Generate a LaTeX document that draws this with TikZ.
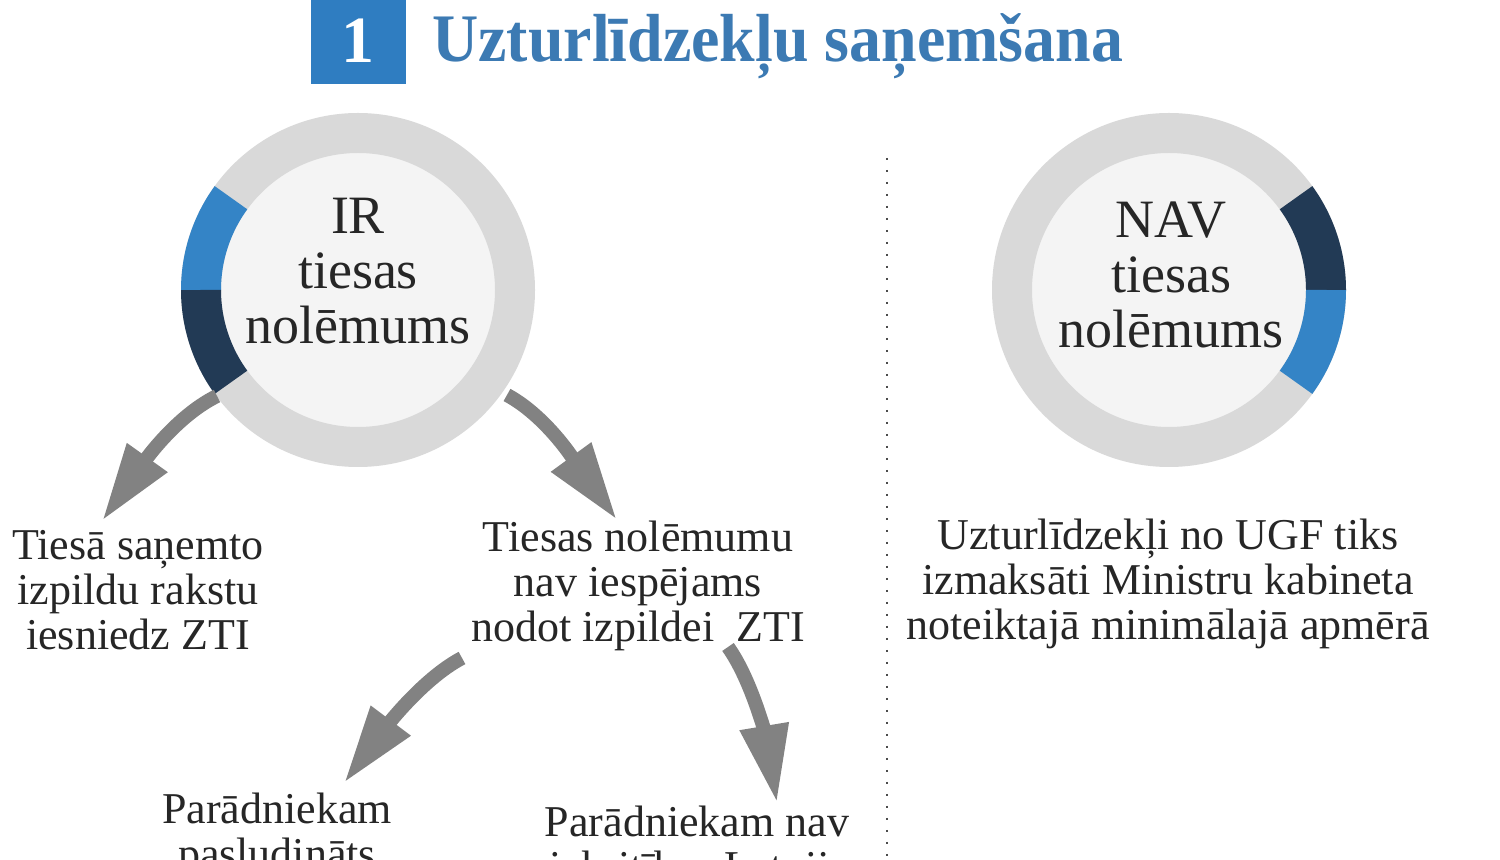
\documentclass[tikz,border=0pt]{standalone}
\usepackage{fontspec}
\setmainfont{Liberation Serif}
\usetikzlibrary{arrows.meta}
\definecolor{ringgray}{HTML}{D9D9D9}
\definecolor{innerfill}{HTML}{F4F4F4}
\definecolor{segblue}{HTML}{3484C6}
\definecolor{segdark}{HTML}{223A55}
\definecolor{titleblue}{HTML}{3C7AB3}
\definecolor{boxblue}{HTML}{2F7DC1}
\definecolor{txt}{HTML}{262626}
\definecolor{arrowgray}{HTML}{828282}
\tikzset{
  ring/.style={draw=ringgray, line width=20pt, fill=none},
  seg/.style={line width=20pt},
  circtext/.style={align=center, inner sep=0pt, text=txt, font=\fontsize{27}{27.5}\selectfont},
  bodytext/.style={align=center, inner sep=0pt, text=txt, font=\fontsize{22}{22.5}\selectfont},
  bigarrow/.style={draw=arrowgray, line width=7pt, -{Triangle[length=39pt,width=23pt]}},
  divider/.style={draw=black!70, line width=1.3pt, dash pattern=on 1.2pt off 4.8pt},
}
\begin{document}
\begin{tikzpicture}[x=0.5pt,y=-0.5pt]
\useasboundingbox (0,0) rectangle (1500,860);
\fill[white] (0,0) rectangle (1500,860);

% title
\fill[boxblue] (311,-5) rectangle (406,84);
\node[inner sep=0pt, text=white, font=\fontsize{33}{33}\selectfont\bfseries] (num) at (358,41) {1};
\node[anchor=base west, inner sep=0pt, text=titleblue, font=\fontsize{34}{34}\selectfont\bfseries] (title) at (432,62) {\scalebox{0.94}[1]{Uzturlīdzekļu saņemšana}};

% left circle
\coordinate (cL) at (358,290);
\fill[innerfill] (cL) circle[radius=140];
\draw[ring] (cL) circle[radius=157];
\draw[seg, segblue] (cL) ++(-180:157) arc[start angle=-180, end angle=-144, radius=157];
\draw[seg, segdark] (cL) ++(-216:157) arc[start angle=-216, end angle=-180, radius=157];
\node[circtext] (ir) at (358,271) {IR\\tiesas\\nolēmums};

% right circle
\coordinate (cR) at (1169,290);
\fill[innerfill] (cR) circle[radius=140];
\draw[ring] (cR) circle[radius=157];
\draw[seg, segdark] (cR) ++(-36:157) arc[start angle=-36, end angle=0, radius=157];
\draw[seg, segblue] (cR) ++(0:157) arc[start angle=0, end angle=36, radius=157];
\node[circtext] (nav) at (1171,275) {NAV\\tiesas\\nolēmums};

% divider
\coordinate (dtop) at (887,158);
\coordinate (dbot) at (887,862);
\draw[divider] (dtop) -- (dbot);

% texts
\node[bodytext] (t1) at (138,590) {Tiesā saņemto\\izpildu rakstu\\iesniedz ZTI};
\node[bodytext] (t2) at (638,586) {Tiesas nolēmumu\\nav iespējams\\nodot izpildei~ ZTI};
\node[bodytext] (t3) at (1168,584) {Uzturlīdzekļi no UGF tiks\\izmaksāti Ministru kabineta\\noteiktajā minimālajā apmērā};
\node[bodytext, anchor=north] (t4) at (277,793) {Parādniekam\\pasludināts};
\node[bodytext, anchor=north] (t5) at (697,806) {Parādniekam nav\\piekritības Latvijas};

% arrows
\coordinate (a1s) at (217,396);
\coordinate (a1e) at (102,521);
\coordinate (a2s) at (507,395);
\coordinate (a2e) at (617,520);
\coordinate (a3s) at (462,658);
\coordinate (a3e) at (344,783);
\coordinate (a4s) at (728,647);
\coordinate (a4e) at (777,803);
\draw[bigarrow] (a1s) .. controls (172,418) and (137,472) .. (a1e);
\draw[bigarrow] (a2s) .. controls (550,418) and (582,472) .. (a2e);
\draw[bigarrow] (a3s) .. controls (420,680) and (380,735) .. (a3e);
\draw[bigarrow] (a4s) .. controls (753,682) and (767,743) .. (a4e);
\end{tikzpicture}
\end{document}
